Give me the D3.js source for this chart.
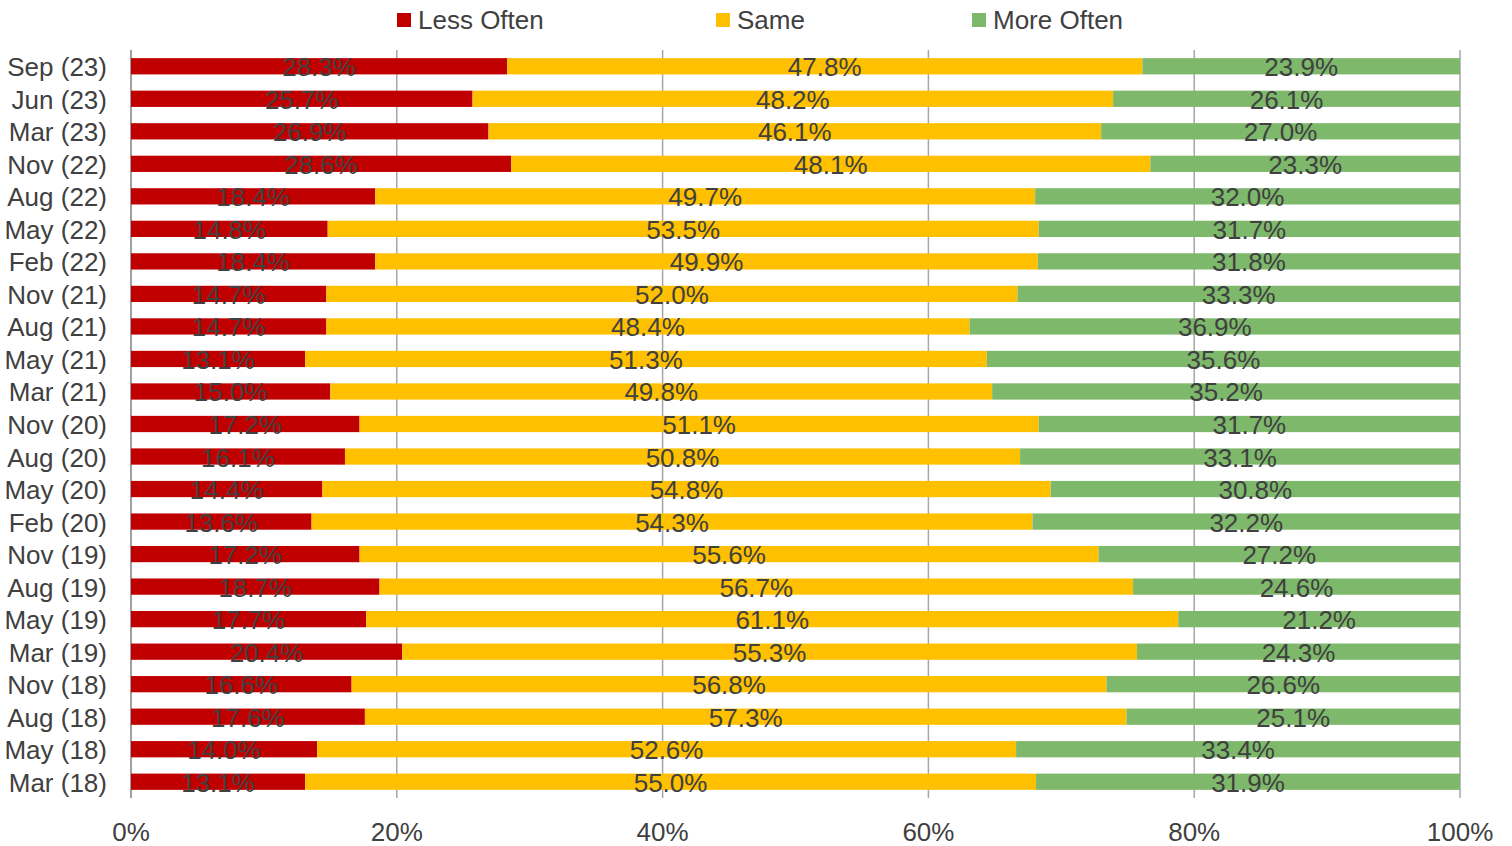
<!DOCTYPE html>
<meta charset="utf-8">
<script src="https://d3js.org/d3.v7.min.js"></script>
<style>
  body { margin: 0; background: #fff; }
  text { font-family: "Liberation Sans", Arial, sans-serif; fill: #404040; }
</style>
<div id="chart"></div>
<script>
// categories, top to bottom
var periods = ["Sep (23)", "Jun (23)", "Mar (23)", "Nov (22)", "Aug (22)", "May (22)", "Feb (22)",
  "Nov (21)", "Aug (21)", "May (21)", "Mar (21)", "Nov (20)", "Aug (20)", "May (20)", "Feb (20)",
  "Nov (19)", "Aug (19)", "May (19)", "Mar (19)", "Nov (18)", "Aug (18)", "May (18)", "Mar (18)"];

var lessOften = [28.3, 25.7, 26.9, 28.6, 18.4, 14.8, 18.4, 14.7, 14.7, 13.1, 15.0, 17.2, 16.1, 14.4, 13.6,
  17.2, 18.7, 17.7, 20.4, 16.6, 17.6, 14.0, 13.1];
var same = [47.8, 48.2, 46.1, 48.1, 49.7, 53.5, 49.9, 52.0, 48.4, 51.3, 49.8, 51.1, 50.8, 54.8, 54.3,
  55.6, 56.7, 61.1, 55.3, 56.8, 57.3, 52.6, 55.0];
var moreOften = [23.9, 26.1, 27.0, 23.3, 32.0, 31.7, 31.8, 33.3, 36.9, 35.6, 35.2, 31.7, 33.1, 30.8, 32.2,
  27.2, 24.6, 21.2, 24.3, 26.6, 25.1, 33.4, 31.9];

var seriesNames = ["Less Often", "Same", "More Often"];
var xTicks = [0, 0.2, 0.4, 0.6, 0.8, 1];

var colors = {"Less Often": "#C00000", "Same": "#FFC000", "More Often": "#7DB86B"};

var width = 1512, height = 846;
var plotLeft = 131, plotRight = 1460, plotTop = 50, plotBottom = 798;

var rows = periods.map(function(p, i) {
  return {period: p, "Less Often": lessOften[i], "Same": same[i], "More Often": moreOften[i]};
});

var svg = d3.select("#chart").append("svg")
  .attr("width", width)
  .attr("height", height);

var x = d3.scaleLinear().domain([0, 1]).range([plotLeft, plotRight]);
var y = d3.scaleBand().domain(periods).range([plotTop, plotBottom])
  .paddingInner(0.5).paddingOuter(0.25);

// gridlines
svg.append("g")
  .selectAll("line")
  .data(xTicks)
  .enter().append("line")
    .attr("x1", function(d) { return x(d); })
    .attr("x2", function(d) { return x(d); })
    .attr("y1", plotTop)
    .attr("y2", plotBottom)
    .attr("stroke", function(d) { return d === 0 ? "#7f7f7f" : "#a6a6a6"; })
    .attr("stroke-width", 1.5);

// x tick labels
svg.append("g")
  .selectAll("text")
  .data(xTicks)
  .enter().append("text")
    .attr("x", function(d) { return x(d); })
    .attr("y", 832)
    .attr("text-anchor", "middle")
    .attr("dominant-baseline", "central")
    .style("font-size", "26px")
    .text(d3.format(".0%"));

// y labels
svg.append("g")
  .selectAll("text")
  .data(periods)
  .enter().append("text")
    .attr("x", 107)
    .attr("y", function(d) { return y(d) + y.bandwidth() / 2 + 1; })
    .attr("text-anchor", "end")
    .attr("dominant-baseline", "central")
    .style("font-size", "26px")
    .text(function(d) { return d; });

var stack = d3.stack().keys(seriesNames).offset(d3.stackOffsetExpand);
var layers = stack(rows);

var g = svg.append("g")
  .selectAll("g")
  .data(layers)
  .enter().append("g")
    .attr("fill", function(d) { return colors[d.key]; });

g.selectAll("rect")
  .data(function(d) { return d; })
  .enter().append("rect")
    .attr("x", function(d) { return x(d[0]); })
    .attr("y", function(d) { return y(d.data.period); })
    .attr("width", function(d) { return x(d[1]) - x(d[0]); })
    .attr("height", y.bandwidth());

// data labels
var lg = svg.append("g")
  .selectAll("g")
  .data(layers)
  .enter().append("g");

lg.selectAll("text")
  .data(function(d) { return d.map(function(v) { return {v: v, key: d.key}; }); })
  .enter().append("text")
    .attr("x", function(d) { return x((d.v[0] + d.v[1]) / 2); })
    .attr("y", function(d) { return y(d.v.data.period) + y.bandwidth() / 2 + 1; })
    .attr("text-anchor", "middle")
    .attr("dominant-baseline", "central")
    .style("font-size", "26px")
    .text(function(d) { return d.v.data[d.key].toFixed(1) + "%"; });

// legend
var legendX = [397, 716, 972];
var legend = svg.append("g")
  .selectAll("g")
  .data(seriesNames)
  .enter().append("g")
    .attr("transform", function(d, i) { return "translate(" + legendX[i] + ",0)"; });

legend.append("rect")
  .attr("x", 0)
  .attr("y", 13)
  .attr("width", 14)
  .attr("height", 14)
  .attr("fill", function(d) { return colors[d]; });

legend.append("text")
  .attr("x", 21)
  .attr("y", 20)
  .attr("dominant-baseline", "central")
  .style("font-size", "26px")
  .text(function(d) { return d; });
</script>
